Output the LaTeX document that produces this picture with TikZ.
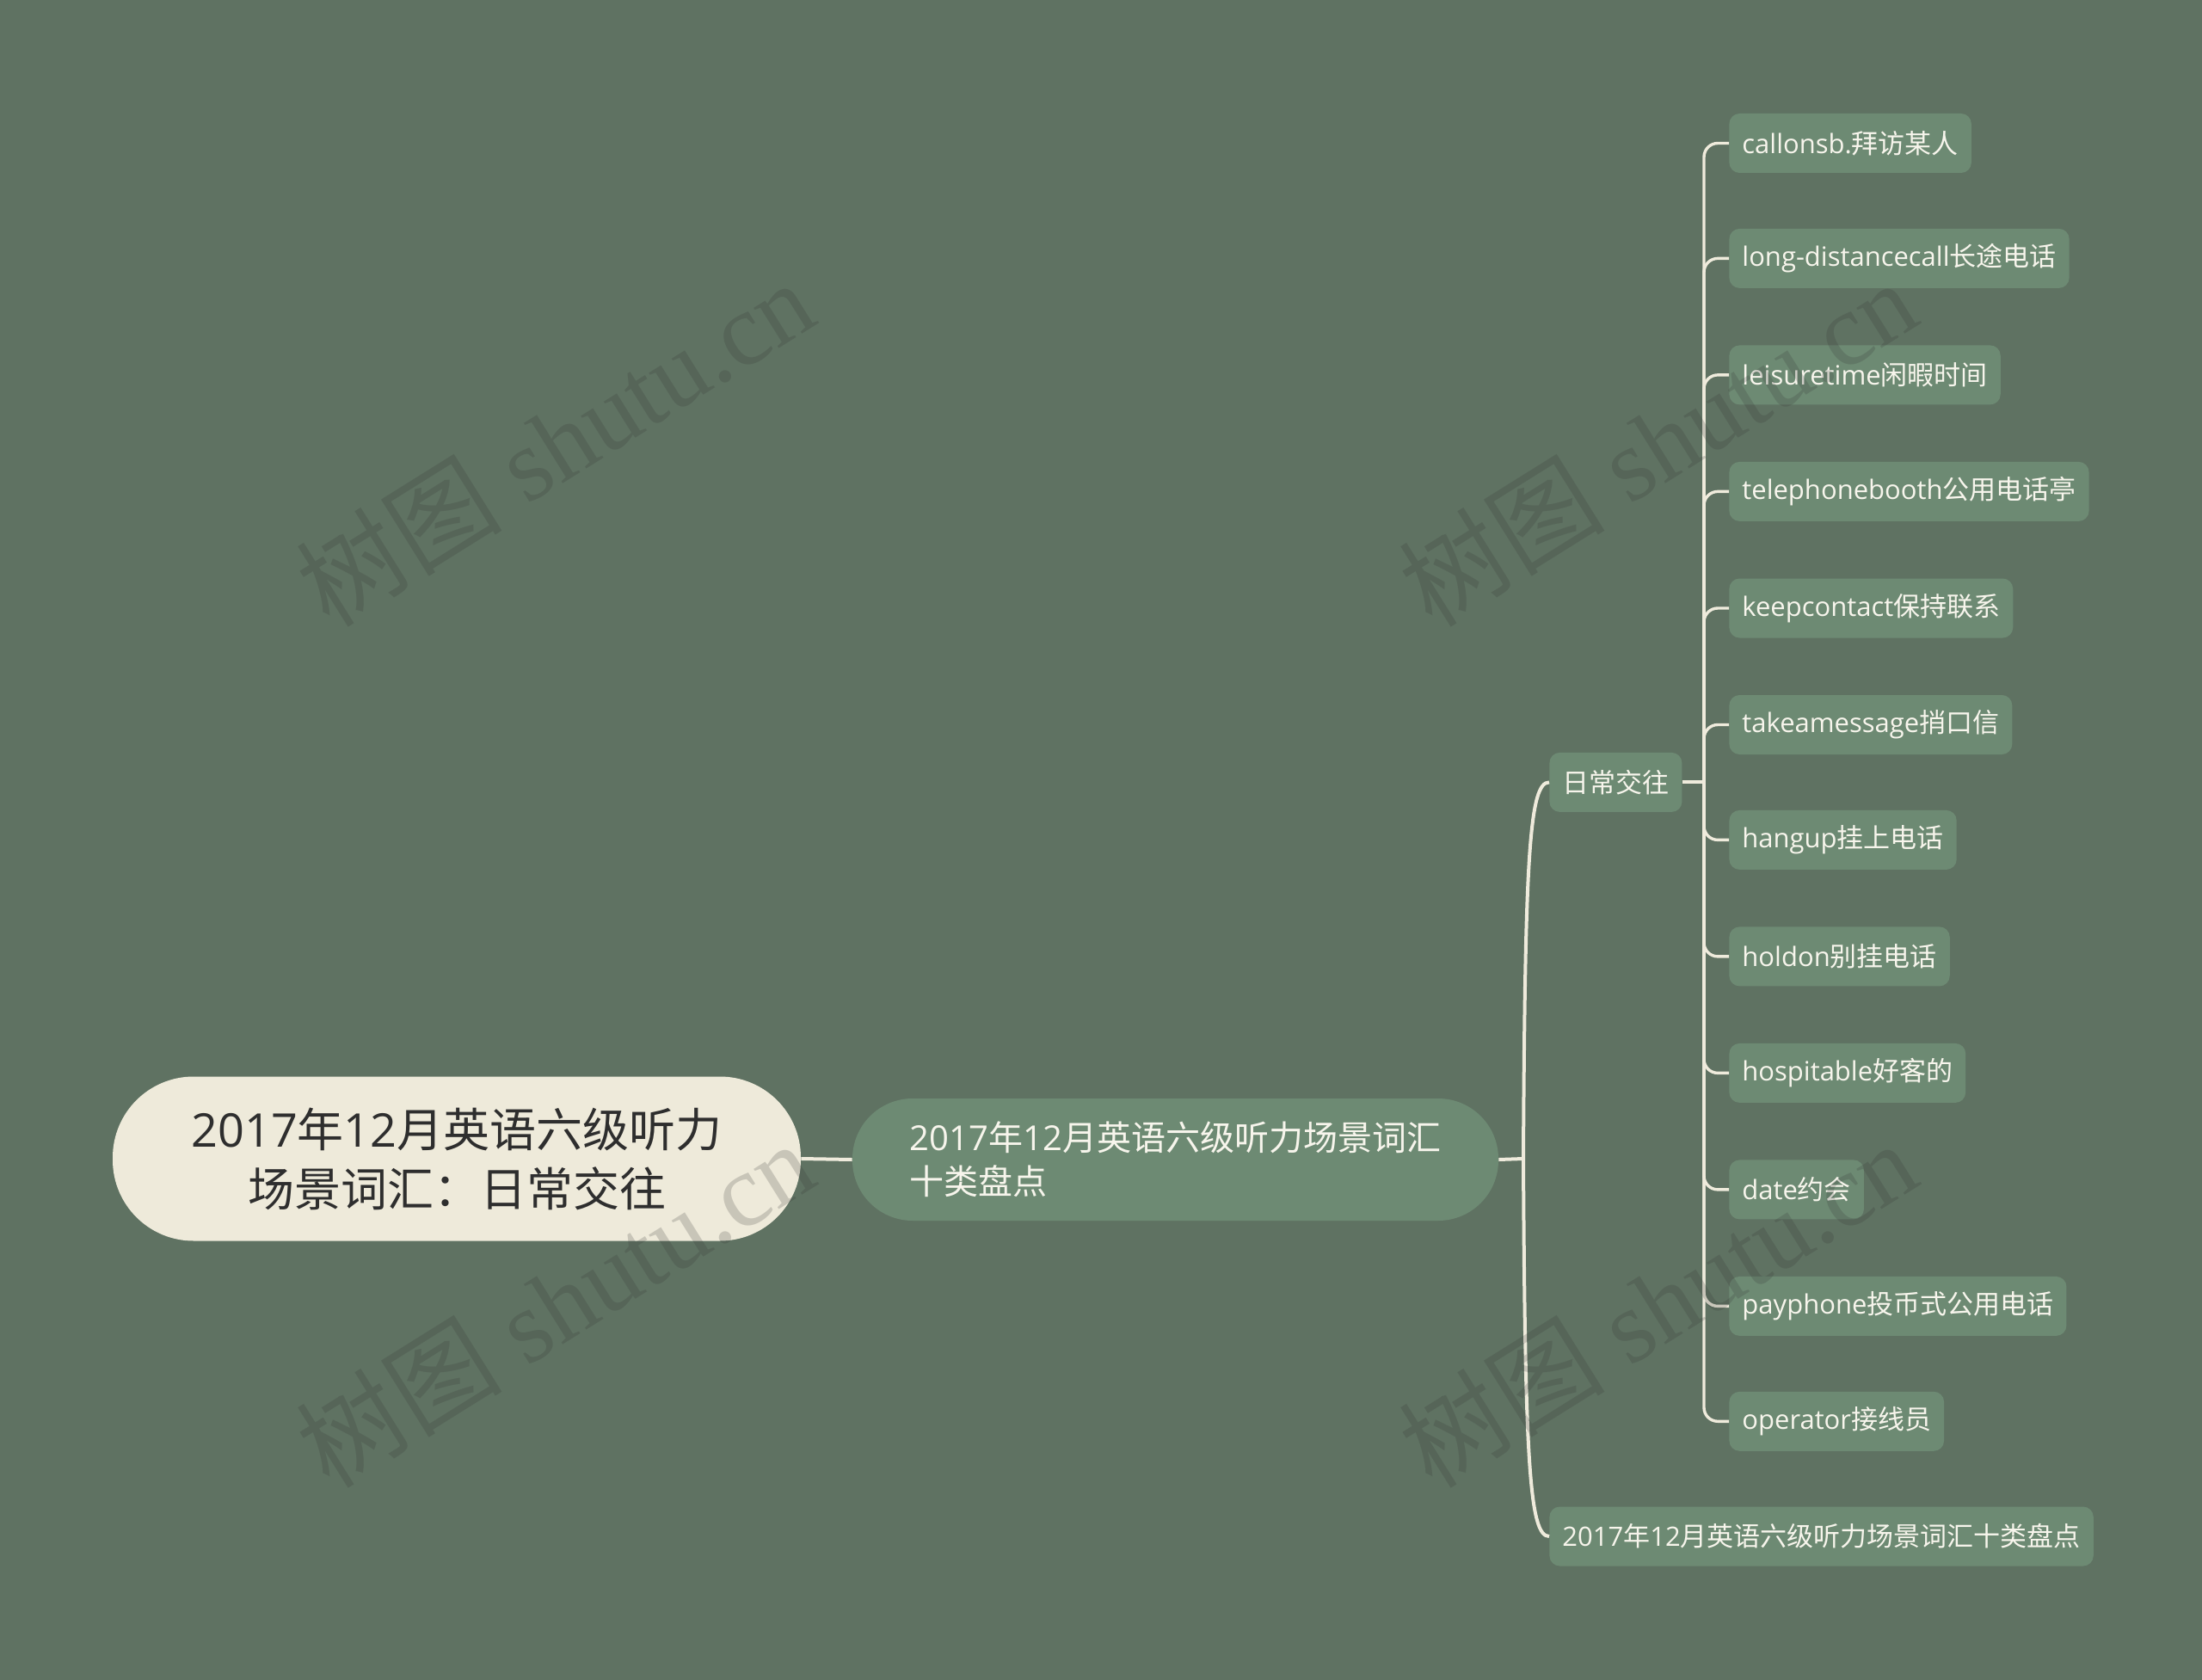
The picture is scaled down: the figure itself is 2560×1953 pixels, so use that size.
\documentclass[tikz,border=0pt]{standalone}
\usepackage{fontspec}
\setmainfont{Open Sans}
\newfontfamily\cjk{Noto Sans CJK SC}
\newfontfamily\wmserif{Liberation Serif}
\definecolor{bgc}{HTML}{5F7262}
\definecolor{leaffill}{HTML}{6D8A73}
\definecolor{rootfill}{HTML}{EEEADA}
\definecolor{rootink}{HTML}{2E2E2E}
\definecolor{leafink}{HTML}{F7F5EC}
\definecolor{linec}{HTML}{EFEBDC}
\tikzset{
  rootbox/.style={fill=rootfill, text=rootink, rounded corners=47pt, minimum width=400pt,
    minimum height=95.5pt, align=center, inner sep=0pt, font=\fontsize{27}{34.5}\selectfont},
  midbox/.style={fill=leaffill, text=leafink, rounded corners=35pt, minimum width=375.5pt,
    minimum height=71pt, align=left, inner sep=0pt, font=\fontsize{20}{25.5}\selectfont},
  leafbox/.style={fill=leaffill, text=leafink, rounded corners=6pt, minimum height=34.5pt,
    inner xsep=7.5pt, inner ysep=0pt, anchor=west, font=\fontsize{15.5}{18}\selectfont},
  conn/.style={draw=linec, line width=2pt},
  leafconn/.style={draw=linec, line width=1.7pt, rounded corners=8pt},
  wm/.style={text=black!80, opacity=0.2, rotate=32, font=\wmserif\fontsize{60}{60}\selectfont}
}
\begin{document}
\begin{tikzpicture}[x=0.5pt,y=-0.5pt]
\fill[bgc] (0,0) rectangle (2560,1953);
\useasboundingbox (0,0) rectangle (2560,1953);

\node[rootbox] (root) at (531,1347) {2017{\cjk 年}12{\cjk 月英语六级听力}\\{\cjk 场景词汇：日常交往}};
\node[midbox] (mid) at (1366.5,1348) {2017{\cjk 年}12{\cjk 月英语六级听力场景词汇}\\{\cjk 十类盘点}};
\node[leafbox] (sub) at (1801,909.4) {{\cjk 日常交往}};
\node[leafbox] (bot) at (1801,1786) {2017{\cjk 年}12{\cjk 月英语六级听力场景词汇十类盘点}};

\node[leafbox] (l1) at (2010,166.5) {callonsb.{\cjk 拜访某人}};
\node[leafbox] (l2) at (2010,300.4) {long-distancecall{\cjk 长途电话}};
\node[leafbox] (l3) at (2010,435.9) {leisuretime{\cjk 闲暇时间}};
\node[leafbox] (l4) at (2010,571.4) {telephonebooth{\cjk 公用电话亭}};
\node[leafbox] (l5) at (2010,707) {keepcontact{\cjk 保持联系}};
\node[leafbox] (l6) at (2010,842.5) {takeamessage{\cjk 捎口信}};
\node[leafbox] (l7) at (2010,976.4) {hangup{\cjk 挂上电话}};
\node[leafbox] (l8) at (2010,1111.9) {holdon{\cjk 别挂电话}};
\node[leafbox] (l9) at (2010,1247.4) {hospitable{\cjk 好客的}};
\node[leafbox] (l10) at (2010,1382.9) {date{\cjk 约会}};
\node[leafbox] (l11) at (2010,1518.4) {payphone{\cjk 投币式公用电话}};
\node[leafbox] (l12) at (2010,1652.3) {operator{\cjk 接线员}};

\coordinate (j1) at (1771,1347);
\coordinate (hub) at (1981,909.4);
\begin{scope}[on background layer/.try]
\end{scope}
\draw[conn] (root.east) -- (mid.west);
\draw[conn] (mid.east) -- (j1);
\draw[conn] (j1) .. controls (1773,994) and (1778,909.4) .. (sub.west);
\draw[conn] (j1) .. controls (1773,1700) and (1778,1786) .. (bot.west);
\draw[conn] (sub.east) -- (hub);
\foreach \n in {l1,l2,l3,l4,l5,l6,l7,l8,l9,l10,l11,l12}{
  \draw[leafconn] (hub) |- (\n.west);
}

\node[wm] (w1) at (645,514) {{\cjk 树图} shutu.cn};
\node[wm] (w2) at (1927,514) {{\cjk 树图} shutu.cn};
\node[wm] (w3) at (645,1515) {{\cjk 树图} shutu.cn};
\node[wm] (w4) at (1927,1515) {{\cjk 树图} shutu.cn};
\end{tikzpicture}
\end{document}
